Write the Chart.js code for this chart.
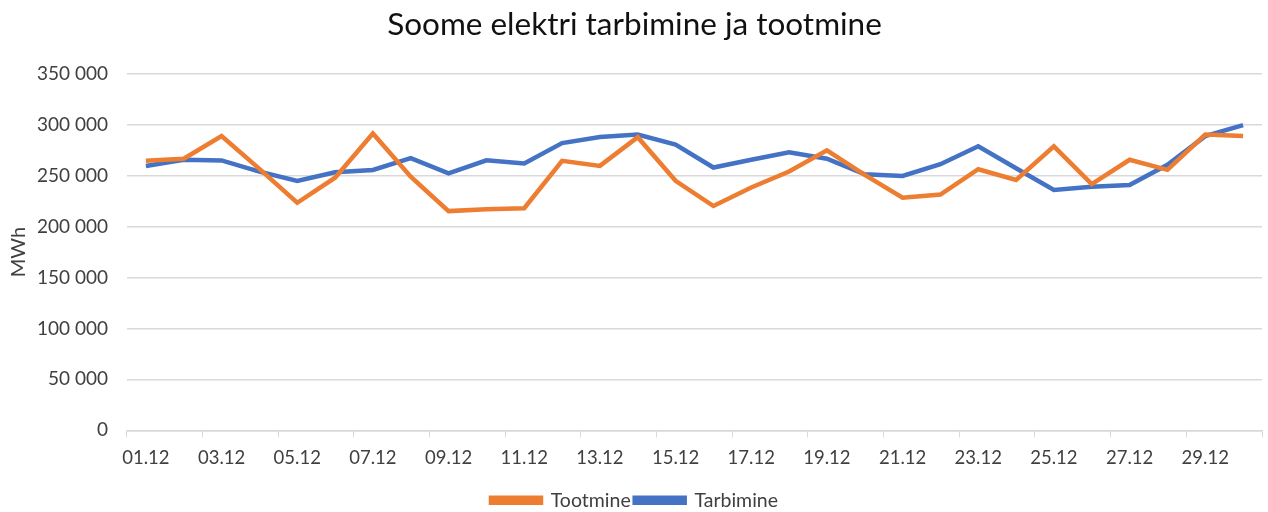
<!DOCTYPE html>
<html>
<head>
<meta charset="utf-8">
<script src="https://cdn.jsdelivr.net/npm/chart.js@4/dist/chart.umd.min.js"></script>
<style>
  html, body { margin: 0; padding: 0; background: #fff; }
  #wrap { width: 1268px; height: 512px; }
</style>
</head>
<body>
<div id="wrap"><canvas id="chart"></canvas></div>
<script>
const days = ['01.12','02.12','03.12','04.12','05.12','06.12','07.12','08.12','09.12','10.12',
  '11.12','12.12','13.12','14.12','15.12','16.12','17.12','18.12','19.12','20.12',
  '21.12','22.12','23.12','24.12','25.12','26.12','27.12','28.12','29.12','30.12'];

const tootmine = [264600, 266600, 288800, 256700, 223400, 248000, 291400, 249000, 215200, 217000,
  218000, 264600, 259600, 287800, 245000, 220200, 238400, 254000, 274900, 250700,
  228400, 231400, 256300, 245700, 278800, 241700, 265600, 255700, 290400, 289000];

const tarbimine = [259500, 265600, 265000, 254000, 244700, 253300, 255600, 267200, 252300, 265000,
  262000, 282000, 288000, 290400, 280500, 258000, 265600, 273000, 266600, 251300,
  249700, 261200, 278800, 257300, 236000, 239000, 240800, 260600, 288800, 299700];

const fontFamily = 'Lato, "Open Sans", sans-serif';
const textColor = '#404040';
const gridColor = '#d9d9d9';

function spaced(v) {
  return String(v).replace(/\B(?=(\d{3})+(?!\d))/g, ' ');
}

new Chart(document.getElementById('chart'), {
  type: 'line',
  data: {
    labels: days,
    datasets: [
      {
        label: 'Tootmine',
        data: tootmine,
        borderColor: '#ED7D31',
        backgroundColor: '#ED7D31',
        borderWidth: 4.5,
        pointRadius: 0,
        tension: 0
      },
      {
        label: 'Tarbimine',
        data: tarbimine,
        borderColor: '#4472C4',
        backgroundColor: '#4472C4',
        borderWidth: 4.5,
        pointRadius: 0,
        tension: 0
      }
    ]
  },
  options: {
    responsive: true,
    maintainAspectRatio: false,
    animation: false,
    layout: { padding: { left: 7, right: 6, top: 0, bottom: -8 } },
    plugins: {
      title: {
        display: true,
        text: 'Soome elektri tarbimine ja tootmine',
        color: '#111',
        font: { family: fontFamily, size: 31.5, weight: 'normal' },
        padding: { top: 6, bottom: 30 }
      },
      legend: {
        position: 'bottom',
        labels: {
          color: textColor,
          font: { family: fontFamily, size: 19.5 },
          boxWidth: 50,
          boxHeight: 5,
          padding: 4
        }
      },
      tooltip: { enabled: false }
    },
    scales: {
      x: {
        offset: true,
        afterFit: s => { s.height += 7; },
        grid: {
          offset: true,
          drawOnChartArea: false,
          drawTicks: true,
          tickLength: 7,
          color: ctx => (ctx.index === undefined || ctx.index % 2 === 0) ? gridColor : 'transparent'
        },
        border: { color: gridColor, width: 1.5 },
        ticks: {
          autoSkip: false,
          maxRotation: 0,
          color: textColor,
          font: { family: fontFamily, size: 18.5 },
          padding: 10,
          callback: (v, i) => i % 2 === 0 ? days[i] : ''
        }
      },
      y: {
        min: 0,
        max: 350000,
        afterFit: s => { s.width -= 18; },
        ticks: {
          stepSize: 50000,
          color: textColor,
          font: { family: fontFamily, size: 19 },
          padding: 19,
          callback: v => spaced(v)
        },
        grid: { color: gridColor, lineWidth: 1.5, drawTicks: false },
        border: { display: false },
        title: {
          display: true,
          text: 'MWh',
          color: textColor,
          font: { family: fontFamily, size: 20 },
          padding: { top: 0, bottom: 5 }
        }
      }
    }
  }
});
</script>
</body>
</html>
